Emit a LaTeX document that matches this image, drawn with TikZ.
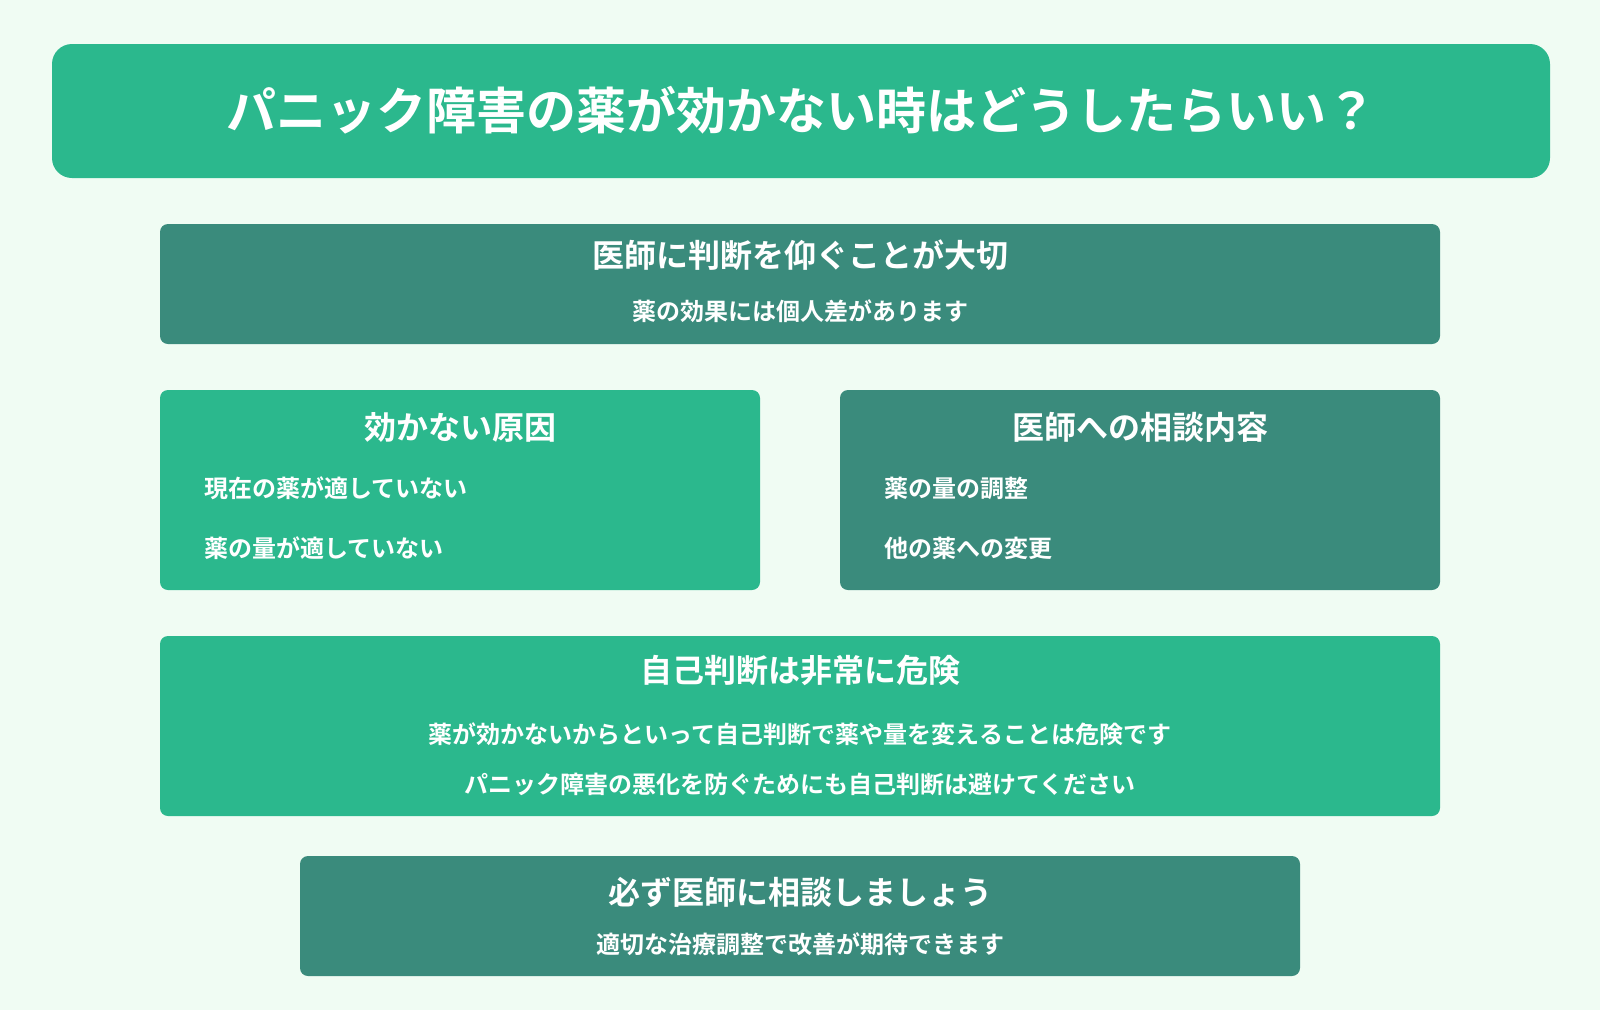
\documentclass[tikz,border=0pt]{standalone}
\usepackage{fontspec}
\newfontfamily\cjk{Noto Sans CJK JP Bold}
\definecolor{bg}{HTML}{F0FCF3}
\definecolor{gr}{HTML}{2BB88D}
\definecolor{dk}{HTML}{3A8B7C}
\tikzset{
 boxg/.style={fill=gr,rounded corners=8pt,draw=none},
 boxd/.style={fill=dk,rounded corners=8pt,draw=none},
 ttl/.style={text=white,font=\cjk\fontsize{50}{56}\selectfont},
 hd/.style={text=white,font=\cjk\fontsize{32}{38}\selectfont},
 sb/.style={text=white,font=\cjk\fontsize{24}{30}\selectfont},
}
\begin{document}
\begin{tikzpicture}[x=1pt,y=-1pt]
\fill[bg] (0,0) rectangle (1600,1010);
\useasboundingbox (0,0) rectangle (1600,1010);
\fill[gr,rounded corners=20pt] (52,44) rectangle (1550,178);
\node[ttl] (t) at (801,110) {パニック障害の薬が効かない時はどうしたらいい？};
\fill[boxd] (160,224) rectangle (1440,344);
\node[hd] (h1) at (800,255) {医師に判断を仰ぐことが大切};
\node[sb] (s1) at (800,311) {薬の効果には個人差があります};
\fill[boxg] (160,390) rectangle (760,590);
\node[hd] (h2) at (460,427) {効かない原因};
\node[sb,anchor=west] (a1) at (201,488) {現在の薬が適していない};
\node[sb,anchor=west] (a2) at (201,548) {薬の量が適していない};
\fill[boxd] (840,390) rectangle (1440,590);
\node[hd] (h3) at (1140,427) {医師への相談内容};
\node[sb,anchor=west] (b1) at (881,488) {薬の量の調整};
\node[sb,anchor=west] (b2) at (881,548) {他の薬への変更};
\fill[boxg] (160,636) rectangle (1440,816);
\node[hd] (h4) at (800,670) {自己判断は非常に危険};
\node[sb] (c1) at (800,734) {薬が効かないからといって自己判断で薬や量を変えることは危険です};
\node[sb] (c2) at (800,784) {パニック障害の悪化を防ぐためにも自己判断は避けてください};
\fill[boxd] (300,856) rectangle (1300,976);
\node[hd] (h5) at (800,892) {必ず医師に相談しましょう};
\node[sb] (d1) at (800,944) {適切な治療調整で改善が期待できます};
\end{tikzpicture}
\end{document}
